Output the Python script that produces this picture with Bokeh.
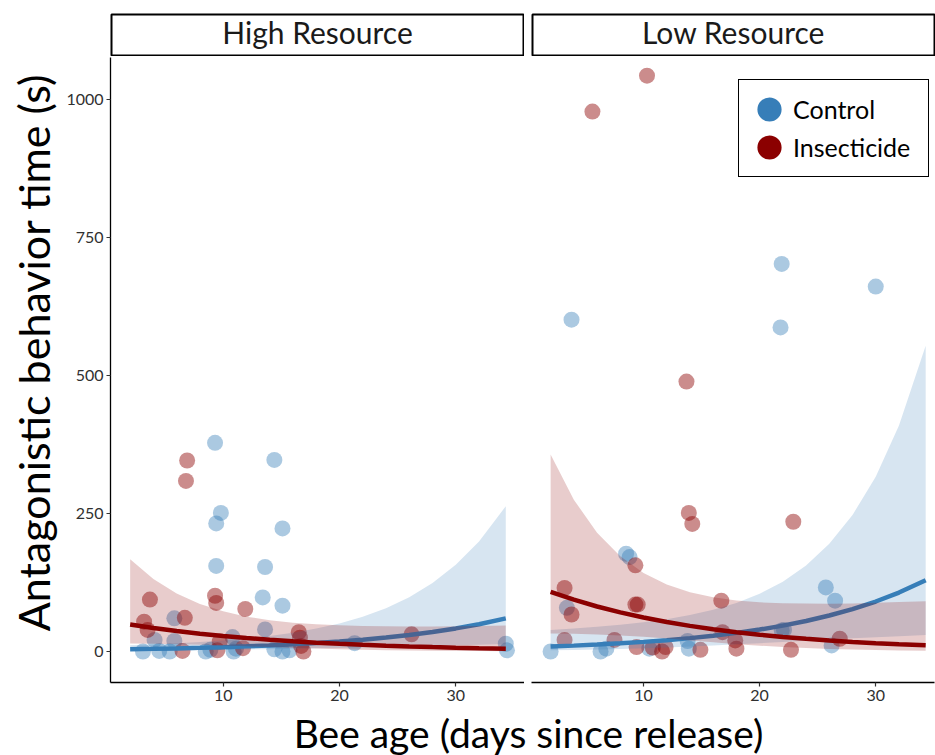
from bokeh.plotting import figure
from bokeh.layouts import row, column
from bokeh.models import Range1d, Label, Legend, LegendItem, FixedTicker
from bokeh.embed import file_html
from bokeh.resources import INLINE
from bokeh.core.validation import silence
from bokeh.core.validation.warnings import MISSING_RENDERERS

silence(MISSING_RENDERERS, True)

FONT = "Lato"
CONTROL = "#377EB8"
INSECT = "#8B0000"

panel_titles = ["High Resource", "Low Resource"]
group_labels = ["Control", "Insecticide"]
x_ticks = [10, 20, 30]
y_ticks = [0, 250, 500, 750, 1000]

# observed antagonistic behaviour: bee age (days since release) vs time (s)
hr_ctrl_age = [9.3, 14.4, 9.8, 9.4, 15.1, 9.4, 13.6, 13.4, 15.1, 5.8, 13.6, 4.1, 5.8, 10.8,
               21.3, 34.3, 34.4, 3.1, 4.5, 5.4, 8.5, 8.9, 10.9, 11.1, 14.4, 15.1, 15.7]
hr_ctrl_time = [378, 347, 251, 232, 223, 155, 153, 98, 83, 60, 40, 21, 19, 26,
                15, 14, 2, 0, 1, 0, 0, 3, 0, 5, 4, 0, 2]

hr_ins_age = [6.9, 6.8, 3.7, 9.3, 9.4, 11.9, 6.7, 3.2, 3.5, 16.5, 16.6, 26.2, 6.5, 9.7,
              11.7, 16.9, 9.5, 16.7]
hr_ins_time = [346, 309, 94, 101, 88, 77, 61, 54, 39, 35, 25, 31, 1, 18, 6, 0, 2, 10]

lr_ctrl_age = [3.8, 21.9, 21.8, 30.0, 8.5, 8.8, 3.4, 2.0, 6.3, 6.8, 10.5, 13.8, 13.9,
               25.7, 26.5, 22.1, 21.9, 26.2]
lr_ctrl_time = [601, 702, 587, 661, 177, 171, 79, 0, 0, 5, 5, 19, 5, 116, 92, 39, 38, 11]

lr_ins_age = [10.3, 5.6, 13.7, 13.9, 14.2, 22.9, 9.3, 16.7, 3.2, 3.8, 9.3, 9.5, 3.2, 7.5,
              9.4, 10.8, 11.6, 11.9, 14.9, 16.8, 17.9, 18.0, 22.7, 26.9]
lr_ins_time = [1043, 978, 489, 251, 231, 235, 156, 92, 115, 67, 85, 85, 21, 21,
               8, 7, 0, 8, 3, 35, 20, 5, 3, 23]

# fitted trend (log-link GLM) with 95% band, tabulated along bee age
fit_age = [2, 4, 6, 8, 10, 12, 14, 16, 18, 20, 22, 24, 26, 28, 30, 32, 34.3]

hr_ctrl_fit = [4.0, 4.73, 5.59, 6.61, 7.82, 9.25, 10.9, 12.9, 15.3, 18.1, 21.4, 25.3, 29.9, 35.3, 41.8, 49.4, 59.9]
hr_ctrl_lo = [1.42, 1.74, 2.12, 2.56, 3.06, 3.62, 4.24, 4.91, 5.64, 6.42, 7.25, 8.14, 9.08, 10.1, 11.1, 12.3, 13.6]
hr_ctrl_hi = [11.3, 12.8, 14.7, 17.0, 20.0, 23.6, 28.2, 34.0, 41.5, 50.9, 63.0, 78.5, 98.4, 124.0, 156.9, 199.2, 263.1]

hr_ins_fit = [49.0, 42.6, 37.0, 32.2, 28.0, 24.3, 21.2, 18.4, 16.0, 13.9, 12.1, 10.5, 9.13, 7.94, 6.90, 6.00, 5.11]
hr_ins_lo = [14.4, 13.8, 13.0, 12.0, 10.8, 9.36, 7.92, 6.49, 5.19, 4.08, 3.17, 2.42, 1.84, 1.39, 1.04, 0.78, 0.56]
hr_ins_hi = [166.9, 131.2, 105.0, 86.2, 72.7, 63.1, 56.7, 52.2, 49.3, 47.4, 46.3, 45.6, 45.3, 45.4, 45.7, 46.2, 47.0]

lr_ctrl_fit = [9.0, 10.6, 12.5, 14.8, 17.4, 20.5, 24.2, 28.5, 33.7, 39.7, 46.8, 55.2, 65.1, 76.7, 90.5, 106.7, 128.9]
lr_ctrl_lo = [2.08, 2.71, 3.52, 4.51, 5.73, 7.19, 8.89, 10.8, 12.9, 15.1, 17.3, 19.5, 21.7, 23.8, 25.9, 27.8, 30.0]
lr_ctrl_hi = [38.9, 41.5, 44.6, 48.3, 52.8, 58.6, 65.9, 75.4, 87.9, 104.5, 126.5, 155.9, 195.0, 247.2, 316.7, 409.2, 554.0]

lr_ins_fit = [108.0, 93.8, 81.5, 70.8, 61.5, 53.4, 46.4, 40.3, 35.0, 30.4, 26.4, 23.0, 19.9, 17.3, 15.1, 13.1, 11.1]
lr_ins_lo = [32.7, 32.0, 30.8, 29.1, 26.6, 23.5, 20.1, 16.5, 13.2, 10.4, 7.99, 6.10, 4.59, 3.44, 2.58, 1.92, 1.35]
lr_ins_hi = [356.7, 274.8, 215.3, 172.5, 142.2, 121.2, 107.3, 98.2, 92.5, 89.1, 87.2, 86.7, 86.3, 86.9, 88.3, 89.5, 91.0]

Y_LO, Y_HI = -56.2, 1076.0
FRAME_H = 625
YLAB_W = 62          # width of the column holding the y-axis title
XLAB_H = 47          # height of the strip holding the x-axis title


def style_axes(p):
    for ax in p.axis:
        ax.axis_line_color = "black"
        ax.axis_line_width = 1.3
        ax.major_tick_line_color = "#333333"
        ax.major_tick_line_width = 1.2
        ax.major_tick_out = 4
        ax.major_tick_in = 0
        ax.minor_tick_line_color = None
        ax.major_label_text_font = FONT
        ax.major_label_text_font_size = "16px"
        ax.major_label_text_color = "#303030"
        ax.major_label_standoff = 3


def make_panel(x_lo, x_hi, frame_w, left_border, right_border, show_y, ctrl, ins):
    p = figure(frame_width=frame_w, frame_height=FRAME_H,
               x_range=Range1d(x_lo, x_hi), y_range=Range1d(Y_LO, Y_HI),
               min_border_left=left_border, min_border_right=right_border,
               min_border_top=1, min_border_bottom=26,
               y_axis_location="left" if show_y else None,
               output_backend="svg", toolbar_location=None,
               outline_line_color=None, background_fill_color="white")
    p.grid.visible = False
    p.xaxis.ticker = FixedTicker(ticks=x_ticks)
    if show_y:
        p.yaxis.ticker = FixedTicker(ticks=y_ticks)
    style_axes(p)

    c_age, c_time, c_fit, c_lo, c_hi = ctrl
    i_age, i_time, i_fit, i_lo, i_hi = ins
    # raw observations
    p.scatter(c_age, c_time, size=16, fill_color=CONTROL, fill_alpha=0.42, line_color=None)
    p.scatter(i_age, i_time, size=16, fill_color=INSECT, fill_alpha=0.45, line_color=None)
    # fitted trends with confidence bands, one group after the other
    p.varea(x=fit_age, y1=c_lo, y2=c_hi, fill_color=CONTROL, fill_alpha=0.2)
    p.line(fit_age, c_fit, line_color=CONTROL, line_width=4.5, line_cap="butt")
    p.varea(x=fit_age, y1=i_lo, y2=i_hi, fill_color=INSECT, fill_alpha=0.2)
    p.line(fit_age, i_fit, line_color=INSECT, line_width=4.5, line_cap="butt")
    return p, (c_age, c_time), (i_age, i_time)


def make_strip(text, frame_w, left_border):
    s = figure(frame_width=frame_w, frame_height=41,
               min_border_left=left_border, min_border_right=1,
               min_border_top=14, min_border_bottom=1,
               x_range=Range1d(0, 1), y_range=Range1d(0, 1),
               x_axis_location=None, y_axis_location=None,
               output_backend="svg", toolbar_location=None,
               outline_line_color="black", outline_line_width=2)
    s.grid.visible = False
    s.add_layout(Label(x=0.5, y=0.57, text=text, text_align="center",
                       text_baseline="middle", text_font=FONT,
                       text_font_size="30px", text_color="#1a1a1a"))
    return s


p_hi, _, _ = make_panel(0.31, 35.91, 414, 110 - YLAB_W, 0, True,
                        (hr_ctrl_age, hr_ctrl_time, hr_ctrl_fit, hr_ctrl_lo, hr_ctrl_hi),
                        (hr_ins_age, hr_ins_time, hr_ins_fit, hr_ins_lo, hr_ins_hi))
p_lo, lo_ctrl_pts, lo_ins_pts = make_panel(
    0.353, 35.06, 403, 7, 1, False,
    (lr_ctrl_age, lr_ctrl_time, lr_ctrl_fit, lr_ctrl_lo, lr_ctrl_hi),
    (lr_ins_age, lr_ins_time, lr_ins_fit, lr_ins_lo, lr_ins_hi))

# opaque legend keys: hidden copies of the point layers, drawn only in the legend
key_c = p_lo.scatter(*lo_ctrl_pts, size=16, fill_color=CONTROL, line_color=CONTROL,
                     line_width=9, visible=False)
key_i = p_lo.scatter(*lo_ins_pts, size=16, fill_color=INSECT, line_color=INSECT,
                     line_width=9, visible=False)
legend = Legend(items=[LegendItem(label=group_labels[0], renderers=[key_c]),
                       LegendItem(label=group_labels[1], renderers=[key_i])],
                location=(207, 505), orientation="vertical", click_policy="none",
                glyph_width=40, glyph_height=38, spacing=0, padding=10,
                label_standoff=4, label_width=125, label_height=38,
                label_text_font=FONT, label_text_font_size="25px",
                label_text_color="black", label_text_baseline="middle",
                border_line_color="black", border_line_width=1.5, border_line_alpha=1.0,
                background_fill_color="white", background_fill_alpha=1.0,
                inactive_fill_alpha=0.0, margin=0)
p_lo.add_layout(legend, "center")

s_hi = make_strip(panel_titles[0], 412, 111 - YLAB_W)
s_lo = make_strip(panel_titles[1], 402, 8)

# shared axis titles
ylab = figure(width=YLAB_W, height=755, min_border_left=0, min_border_right=0,
              min_border_top=0, min_border_bottom=0,
              x_range=Range1d(0, YLAB_W), y_range=Range1d(0, 755),
              x_axis_location=None, y_axis_location=None,
              output_backend="svg", toolbar_location=None, outline_line_color=None)
ylab.grid.visible = False
ylab.add_layout(Label(x=33, y=403, text="Antagonistic behavior time (s)", angle=1.5707963,
                      text_align="center", text_baseline="middle", text_font=FONT,
                      text_font_size="43px", text_color="black"))

xlab = figure(width=935 - YLAB_W, height=XLAB_H, min_border_left=0, min_border_right=0,
              min_border_top=0, min_border_bottom=0,
              x_range=Range1d(0, 935 - YLAB_W), y_range=Range1d(0, XLAB_H),
              x_axis_location=None, y_axis_location=None,
              output_backend="svg", toolbar_location=None, outline_line_color=None)
xlab.grid.visible = False
xlab.add_layout(Label(x=528 - YLAB_W, y=23, text="Bee age (days since release)",
                      text_align="center", text_baseline="middle", text_font=FONT,
                      text_font_size="39px", text_color="black"))

layout = row(ylab, column(row(s_hi, s_lo), row(p_hi, p_lo), xlab))

with open("out.html", "w") as f:
    f.write(file_html(layout, INLINE, title="Antagonistic behavior by bee age"))
